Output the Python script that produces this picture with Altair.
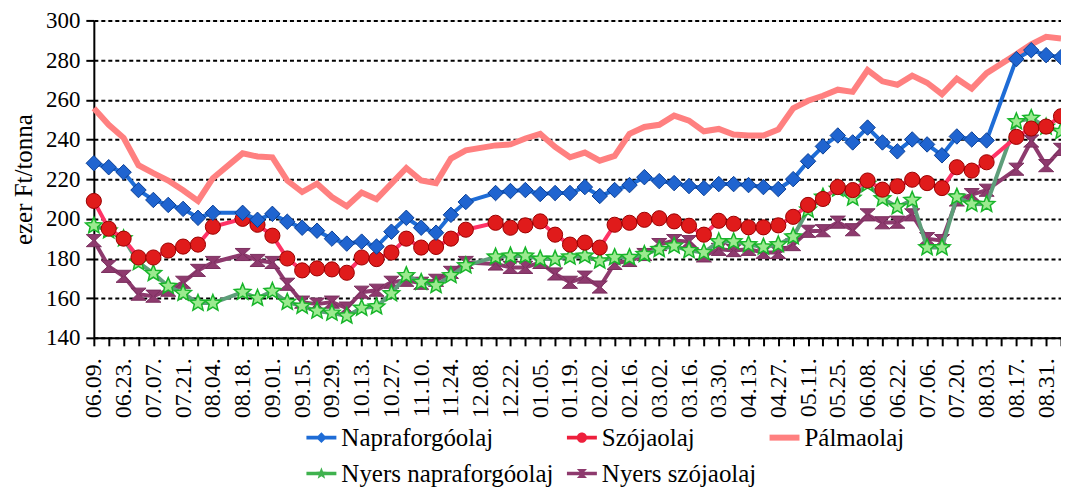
import json
import math
import altair as alt
import pandas as pd

dates = ["06.09.", "06.16.", "06.23.", "06.30.", "07.07.", "07.14.", "07.21.", "07.28.",
         "08.04.", "08.11.", "08.18.", "08.25.", "09.01.", "09.08.", "09.15.", "09.22.",
         "09.29.", "10.06.", "10.13.", "10.20.", "10.27.", "11.03.", "11.10.", "11.17.",
         "11.24.", "12.01.", "12.08.", "12.15.", "12.22.", "12.29.", "01.05.", "01.12.",
         "01.19.", "01.26.", "02.02.", "02.09.", "02.16.", "02.23.", "03.02.", "03.09.",
         "03.16.", "03.23.", "03.30.", "04.06.", "04.13.", "04.20.", "04.27.", "05.04.",
         "05.11.", "05.18.", "05.25.", "06.01.", "06.08.", "06.15.", "06.22.", "06.29.",
         "07.06.", "07.13.", "07.20.", "07.27.", "08.03.", "08.10.", "08.17.", "08.24.",
         "08.31.", "09.07."]

napraforgoolaj = [228, 226, 223.5, 214.5, 209.5, 207, 205, 200.5, 203, None,
                  203, 199.5, 202.5, 198.5, 195.5, 194, 190, 187.5, 188.5, 186,
                  193.5, 200.5, 195.5, 193, 202, 208.5, None, 213, 214, 214.5,
                  212.5, 213, 213, 216, 211.5, 214.5, 217, 221, 219, 218,
                  216.5, 215.5, 217.5, 217.5, 217, 216, 215, 220, 229, 236.5,
                  242, 238.5, 246, 238.5, 234, 240, 237.5, 232, 241.5, 240,
                  239.5, None, 280.5, 285, 282.5, 281.5]

szojaolaj = [209, 195, 190, 180.5, 180.5, 184, 186, 187, 196, None,
             200, 197, 191.5, 180, 174, 175, 174.5, 172.8, 180.5, 179.7,
             183, 190, 185.5, 185.8, 190, 194.5, None, 198, 195.5, 196.7,
             198.7, 192, 187, 188, 185.5, 197, 198, 199.5, 200.3, 198.7,
             196.5, 192, 199, 197.5, 195.7, 195.7, 196.7, 201, 207, 210,
             216, 214.5, 219.3, 214.7, 216.4, 219.7, 218, 215.5, 226, 224.3,
             228.5, None, 241.3, 245.5, 246.5, 251.7]

palmaolaj = [255.7, 247.4, 240.8, 227, 223, 219.3, 214.4, 209, 220.5, None,
             233, 231.4, 231, 219.3, 213.5, 217.7, 211, 206.3, 213.2, 209.9,
             217.7, 225.6, 219.3, 218, 230.4, 234.5, None, 237, 237.5, 240.5,
             242.8, 236.2, 231, 233.4, 229.3, 231.7, 242.8, 246.3, 247.4, 252,
             249.5, 244.1, 245.3, 242.5, 242, 242, 245, 255.7, 259.5, 262,
             265.1, 264, 275, 269.3, 267.6, 272.2, 268.6, 262.8, 270.6, 265.6,
             273.4, None, 283, 287.9, 291.7, 290.9]

nyers_napraforgoolaj = [196.5, 194, 190, 178, 172.5, 166, 162.5, 157.5, 157.5, None,
                        163, 160, 163.5, 158, 156, 153.5, 152.5, 151, 155, 155.7,
                        162.3, 171.4, 168, 166.4, 171.4, 176.4, None, 180.8, 181.3, 181.3,
                        179.7, 179.7, 180.8, 181.3, 178.8, 180.5, 180.5, 182.1, 184.6, 186.3,
                        184, 183, 188.5, 188.5, 187, 185.8, 187, 191, 204.5, 211,
                        215, 210.5, 217.5, 210.2, 206.1, 209.4, 185.5, 185.5, 211, 207.5,
                        207.3, None, 249, 250.7, 246.3, 244.1]

nyers_szojaolaj = [189, 176, 171, 162, 161, 164, 168, 174, 178, None,
                   182, 179, 178, 167, 158, 157, 158, 155, 163, 164,
                   168, 169, 167.5, 169, 173, 178, None, 177.2, 175.5, 175.5,
                   178, 172.2, 168, 170.6, 165.6, 177.5, 179, 182, 187, 189,
                   188.5, 181.3, 184.6, 184, 184.6, 183, 183, 187, 193.7, 194,
                   198.3, 194.5, 202, 198, 198.3, 202, 190, 189, 209.5, 212.2,
                   214.4, None, 225, 239.2, 226.8, 235]

series_names = ["Napraforgóolaj", "Szójaolaj", "Pálmaolaj",
                "Nyers napraforgóolaj", "Nyers szójaolaj"]
series_values = [napraforgoolaj, szojaolaj, palmaolaj,
                 nyers_napraforgoolaj, nyers_szojaolaj]

FONT = "'Liberation Serif', 'DejaVu Serif', 'Times New Roman', Tinos, serif"

line_colors = {"Napraforgóolaj": "#1E6CD6", "Szójaolaj": "#FF3366", "Pálmaolaj": "#FF8080",
               "Nyers napraforgóolaj": "#5E9E7A", "Nyers szójaolaj": "#8E3A6E"}
line_widths = {"Napraforgóolaj": 4, "Szójaolaj": 4, "Pálmaolaj": 6,
               "Nyers napraforgóolaj": 4, "Nyers szójaolaj": 4}


def star_path(ro, ri):
    pts = []
    for k in range(10):
        th = math.radians(-90 + 36 * k)
        r = ro if k % 2 == 0 else ri
        pts.append((r * math.cos(th), r * math.sin(th)))
    return "M" + "L".join(f"{x:.3f},{y:.3f}" for x, y in pts) + "Z"


hourglass = "M-1,-0.8L1,-0.8L0.12,0L1,0.8L-1,0.8L-0.12,0Z"
markers = {
    "Napraforgóolaj": dict(shape="diamond", size=240, fill="#1F64D0", stroke="#0B3F95", sw=1),
    "Szójaolaj": dict(shape="circle", size=230, fill="#E01B1B", stroke="#9A0000", sw=1),
    "Nyers napraforgóolaj": dict(shape=star_path(1, 0.45), size=300, fill="#9BEA8F",
                                 stroke="#18B52A", sw=1.5),
    "Nyers szójaolaj": dict(shape=hourglass, size=230, fill="#8E3A6E", stroke="#7A2F5E", sw=1),
}

rect = lambda h: f"M-1,{-h}L1,{-h}L1,{h}L-1,{h}Z"
legend_symbol = {
    "Napraforgóolaj": (rect(0.12) + " M-0.36,0L0,-0.36L0.36,0L0,0.36Z", "#1E6CD6"),
    "Szójaolaj": (rect(0.12) + " M-0.34,0A0.34,0.34 0 1,1 0.34,0A0.34,0.34 0 1,1 -0.34,0Z",
                  "#EE1F3C"),
    "Pálmaolaj": (rect(0.2), "#FF8080"),
    "Nyers napraforgóolaj": (rect(0.12) + " " + star_path(0.42, 0.18), "#3FB24E"),
    "Nyers szójaolaj": (rect(0.12) + " M-0.34,-0.3L0.34,-0.3L0.05,0L0.34,0.3L-0.34,0.3L-0.05,0Z",
                        "#8E3A6E"),
}
# legend is filled column by column (2 rows x 3 columns)
legend_order = ["Napraforgóolaj", "Nyers napraforgóolaj", "Szójaolaj",
                "Nyers szójaolaj", "Pálmaolaj"]

rows = []
for name, vals in zip(series_names, series_values):
    for i, v in enumerate(vals):
        rows.append({"idx": i, "date": dates[i], "series": name, "value": v})
df = pd.DataFrame(rows).dropna()

label_expr = f"datum.value % 2 == 0 ? {json.dumps(dates)}[datum.value] : ''"

x_enc = alt.X("idx:Q",
              scale=alt.Scale(domain=[0, len(dates) - 1], nice=False, zero=False),
              axis=alt.Axis(values=list(range(len(dates))), labelExpr=label_expr,
                            labelAngle=-90, labelOverlap=False, labelFlush=False,
                            labelFont=FONT, labelFontSize=24, labelColor="black",
                            labelPadding=12, tickSize=8, tickWidth=2, tickColor="black",
                            domainColor="black", domainWidth=2, grid=False, title=None))
y_enc = alt.Y("value:Q",
              scale=alt.Scale(domain=[140, 300], nice=False, zero=False),
              axis=alt.Axis(values=list(range(140, 301, 20)), labelFont=FONT,
                            labelFontSize=23, labelColor="black", labelPadding=6,
                            tickSize=8, tickWidth=2, tickColor="black",
                            domainColor="black", domainWidth=2,
                            grid=True, gridColor="black", gridDash=[4, 3], gridWidth=2,
                            title="ezer Ft/tonna", titleFont=FONT, titleFontSize=25,
                            titleFontWeight="normal", titleColor="black", titlePadding=9))

layers = []
draw_order = ["Nyers szójaolaj", "Nyers napraforgóolaj", "Pálmaolaj", "Szójaolaj", "Napraforgóolaj"]
for name in draw_order:
    sub = df[df["series"] == name]
    base = alt.Chart(sub)
    layers.append(base.mark_line(color=line_colors[name], strokeWidth=line_widths[name])
                  .encode(x=x_enc, y=y_enc))
    if name in markers:
        m = markers[name]
        layers.append(base.mark_point(filled=True, shape=m["shape"], size=m["size"],
                                      fill=m["fill"], stroke=m["stroke"],
                                      strokeWidth=m["sw"], opacity=1)
                      .encode(x=x_enc, y=y_enc))

leg = alt.Legend(title=None, orient="none", legendX=213, legendY=403,
                 columns=3, columnPadding=13, rowPadding=8,
                 symbolSize=900, symbolOpacity=1, symbolStrokeWidth=0,
                 labelFont=FONT, labelFontSize=25, labelColor="black",
                 labelOffset=5, padding=0, labelLimit=400)
legend_df = pd.DataFrame({"series": legend_order})
legend_layer = alt.Chart(legend_df).mark_point(filled=True, opacity=0).encode(
    x=alt.value(0), y=alt.value(0),
    color=alt.Color("series:N",
                    scale=alt.Scale(domain=legend_order,
                                    range=[legend_symbol[n][1] for n in legend_order]),
                    legend=leg),
    shape=alt.Shape("series:N",
                    scale=alt.Scale(domain=legend_order,
                                    range=[legend_symbol[n][0] for n in legend_order]),
                    legend=leg),
)
layers.append(legend_layer)

chart = alt.layer(*layers).properties(
    width=969, height=318,
    autosize=alt.AutoSizeParams(type="none"),
    padding={"left": 86, "top": 12, "right": 0, "bottom": 150},
).configure_view(stroke=None).configure(background="white")

chart.save("out.html", embed_options={"renderer": "svg", "actions": False})
